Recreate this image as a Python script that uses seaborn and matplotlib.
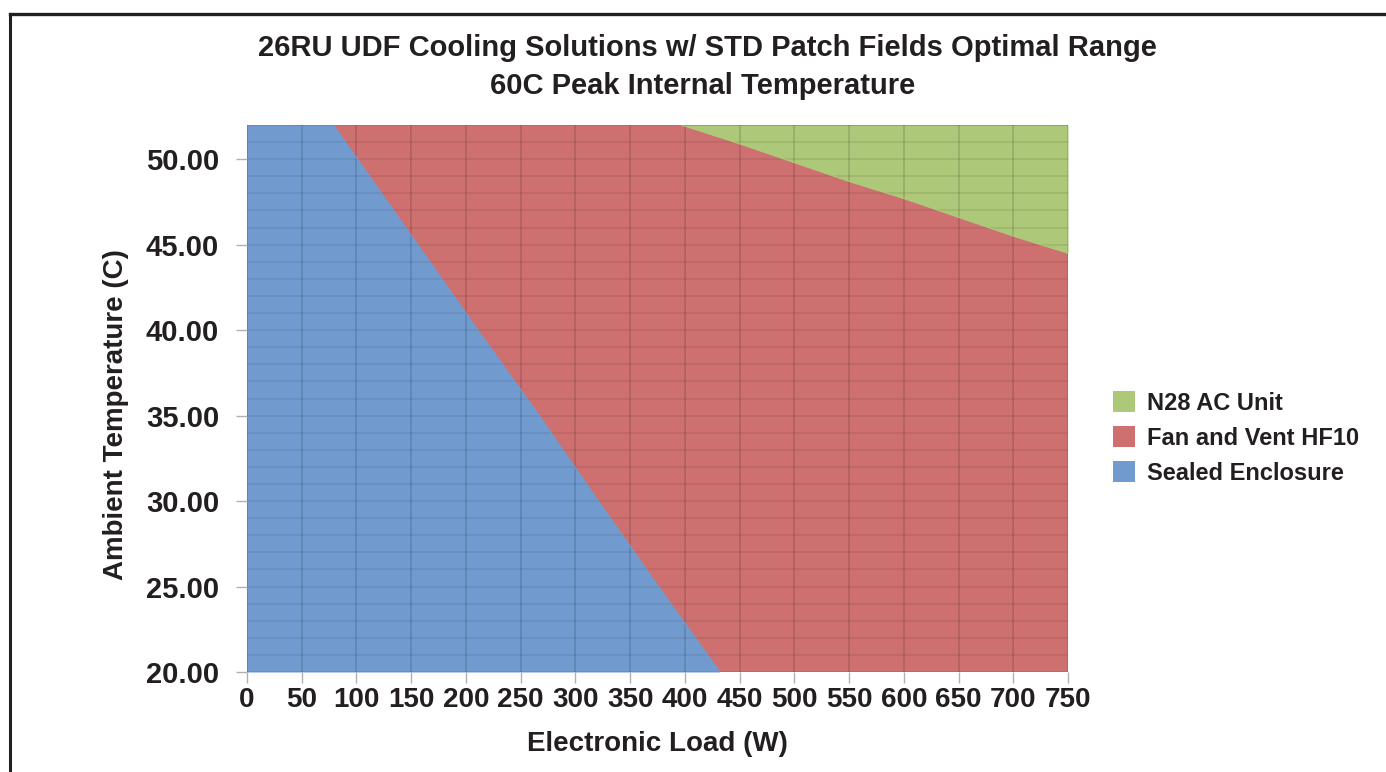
import matplotlib
matplotlib.use("Agg")
import matplotlib.pyplot as plt
from matplotlib.patches import Patch
from matplotlib.lines import Line2D
from matplotlib.ticker import MultipleLocator, FormatStrFormatter
import seaborn as sns
import pandas as pd

# ---- data ----
load_range = [0, 750]          # Electronic load axis extent (W)
temp_range = [20, 52]          # Ambient temperature axis extent (C)

# Sealed Enclosure: max load per ambient temperature
sealed_temps = [20, 25, 30, 35, 40, 45, 50, 52]
sealed_max_load = [432, 376, 321, 267, 211, 156, 101, 79]

# N28 AC Unit: minimum ambient temperature per load
ac_load = [397, 450, 500, 550, 600, 650, 700, 750]
ac_min_temp = [52.0, 50.9, 49.8, 48.7, 47.7, 46.6, 45.5, 44.5]

series_names = ["N28 AC Unit", "Fan and Vent HF10", "Sealed Enclosure"]
series_colors = ["#ADC878", "#CE7070", "#719BCE"]

title_lines = ["26RU UDF Cooling Solutions w/ STD Patch Fields Optimal Range",
               "60C Peak Internal Temperature"]
x_label = "Electronic Load (W)"
y_label = "Ambient Temperature (C)"

# ---- drawing ----
sns.set_theme(style="white")
plt.rcParams["font.family"] = ["Liberation Sans", "DejaVu Sans"]
plt.rcParams["font.weight"] = "bold"

W, H = 1386, 772
fig = plt.figure(figsize=(W / 100, H / 100), dpi=100)
ax = fig.add_axes([247 / W, 1 - 672 / H, (1068 - 247) / W, (672 - 125) / H])

green, red, blue = series_colors

# Fan and Vent (fills the whole domain, others overlay)
ax.fill_between(load_range, temp_range[0], temp_range[1], color=red, lw=0, zorder=1)
# N28 AC Unit
ax.fill_between(ac_load, ac_min_temp, temp_range[1], color=green, lw=0, zorder=2)
# Sealed Enclosure
ax.fill_betweenx(sealed_temps, load_range[0], sealed_max_load, color=blue, lw=0, zorder=2)

# boundary edges through seaborn
sns.lineplot(data=pd.DataFrame({"load": sealed_max_load, "temp": sealed_temps}),
             x="load", y="temp", orient="y", color=blue, lw=0.8, ax=ax, zorder=3)
sns.lineplot(data=pd.DataFrame({"load": ac_load, "temp": ac_min_temp}),
             x="load", y="temp", color=green, lw=0.8, ax=ax, zorder=3)

ax.set_xlim(load_range)
ax.set_ylim(temp_range)

ax.xaxis.set_major_locator(MultipleLocator(50))
ax.yaxis.set_major_locator(MultipleLocator(5))
ax.yaxis.set_minor_locator(MultipleLocator(1))
ax.yaxis.set_major_formatter(FormatStrFormatter("%.2f"))

ax.set_axisbelow(False)
ax.grid(which="major", axis="x", color="black", alpha=0.13, lw=1.3, zorder=4)
ax.grid(which="both", axis="y", color="black", alpha=0.08, lw=1.3, zorder=4)

for s in ax.spines.values():
    s.set_visible(False)

ax.tick_params(axis="both", which="major", direction="out", length=8, width=1,
               color="#b0b0b0", labelcolor="#231f20")
ax.tick_params(axis="y", which="major", pad=12, labelsize=21)
ax.tick_params(axis="x", which="major", pad=3, labelsize=20)
ax.tick_params(axis="y", which="minor", length=0)
ax.tick_params(bottom=True, left=True)
for lab in ax.get_xticklabels() + ax.get_yticklabels():
    lab.set_fontweight("bold")

ax.set_xlabel(x_label, fontsize=20, fontweight="bold", color="#231f20")
ax.set_ylabel(y_label, fontsize=20, fontweight="bold", color="#231f20")
ax.xaxis.set_label_coords(0.5, -0.108)
ax.yaxis.set_label_coords(-0.144, 0.47)

fig.text(707 / W, 1 - 48 / H, title_lines[0], ha="center", va="center",
         fontsize=21, fontweight="bold", color="#231f20")
fig.text(703 / W, 1 - 86 / H, title_lines[1], ha="center", va="center",
         fontsize=21, fontweight="bold", color="#231f20")

handles = [Patch(facecolor=c, edgecolor="none") for c in series_colors]
leg = fig.legend(handles, series_names, loc="center left",
                 bbox_to_anchor=(1113 / W, 1 - 438 / H), frameon=False,
                 fontsize=17, handlelength=0.95, handleheight=0.95,
                 handletextpad=0.5, labelspacing=0.5, borderpad=0, borderaxespad=0)
for t in leg.get_texts():
    t.set_fontweight("bold")
    t.set_color("#231f20")

# outer frame (top and left edges)
fig.add_artist(Line2D([9.5 / W, 9.5 / W], [0, 1 - 13.5 / H], transform=fig.transFigure,
                      color="#231f20", lw=2.2, solid_capstyle="projecting"))
fig.add_artist(Line2D([9.5 / W, 1], [1 - 13.5 / H, 1 - 13.5 / H], transform=fig.transFigure,
                      color="#231f20", lw=2.4, solid_capstyle="projecting"))

fig.savefig("out.png", dpi=100)
